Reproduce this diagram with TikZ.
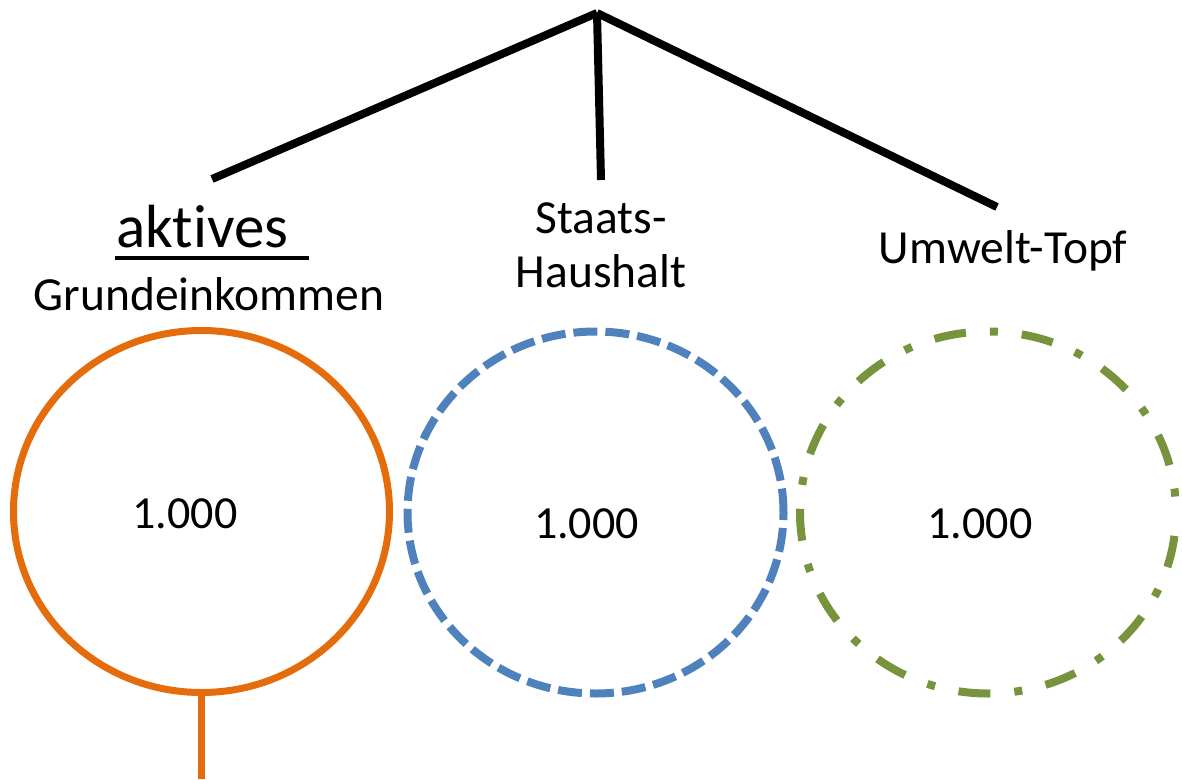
\documentclass[tikz,border=0pt]{standalone}
\usepackage{fontspec}
\setmainfont[Ligatures=NoCommon]{Carlito}
\usetikzlibrary{shapes.geometric}
\definecolor{korange}{RGB}{228,108,10}
\definecolor{kblue}{RGB}{79,129,189}
\definecolor{kgreen}{RGB}{119,147,60}
\tikzset{
  treeline/.style={line width=8pt, black},
  pot/.style={ellipse, minimum width=376pt, minimum height=362pt, inner sep=0pt},
  lbl/.style={anchor=base, inner sep=0pt, font=\fontsize{47.5}{54}\selectfont, align=center},
  num/.style={anchor=base, inner sep=0pt, font=\fontsize{46}{54}\selectfont}
}
\begin{document}
\begin{tikzpicture}[x=1pt,y=-1pt]
\useasboundingbox (0,0) rectangle (1182,779);
% tree
\coordinate (apex) at (597,13);
\coordinate (endL) at (212,179);
\coordinate (endM) at (601,180);
\coordinate (endR) at (997,207);
\draw[treeline] (apex) -- (endL);
\draw[treeline] (apex) -- (endM);
\draw[treeline] (apex) -- (endR);
% labels
\node[anchor=base west, inner sep=0pt, font=\fontsize{61}{66}\selectfont] (akt) at (116,247) {aktives};
\draw[line width=3.5pt] (115,258) -- (309,258);
\node[lbl] (grund) at (209,310) {Grundeinkommen};
\node[lbl] (staats) at (601,233) {Staats-};
\node[lbl] (haus) at (601,287) {Haushalt};
\node[lbl] (umwelt) at (1003,263) {Umwelt-Topf};
% circles
\node[pot, draw=korange, line width=7pt] (c1) at (201.5,511.5) {};
\node[pot, draw=kblue, line width=8pt, dash pattern=on 24pt off 8pt] (c2) at (595.5,512.5) {};
\node[pot, draw=kgreen, line width=8pt, dash pattern=on 32pt off 24pt on 8pt off 24pt, dash phase=40pt] (c3) at (988,512.5) {};
\node[num] (n1) at (185,528) {1.000};
\node[num] (n2) at (586.5,538) {1.000};
\node[num] (n3) at (980,538) {1.000};
% orange stem
\coordinate (stemend) at (c1.south |- 0,779);
\draw[korange, line width=7pt] (c1.south) -- (stemend);
\end{tikzpicture}
\end{document}
